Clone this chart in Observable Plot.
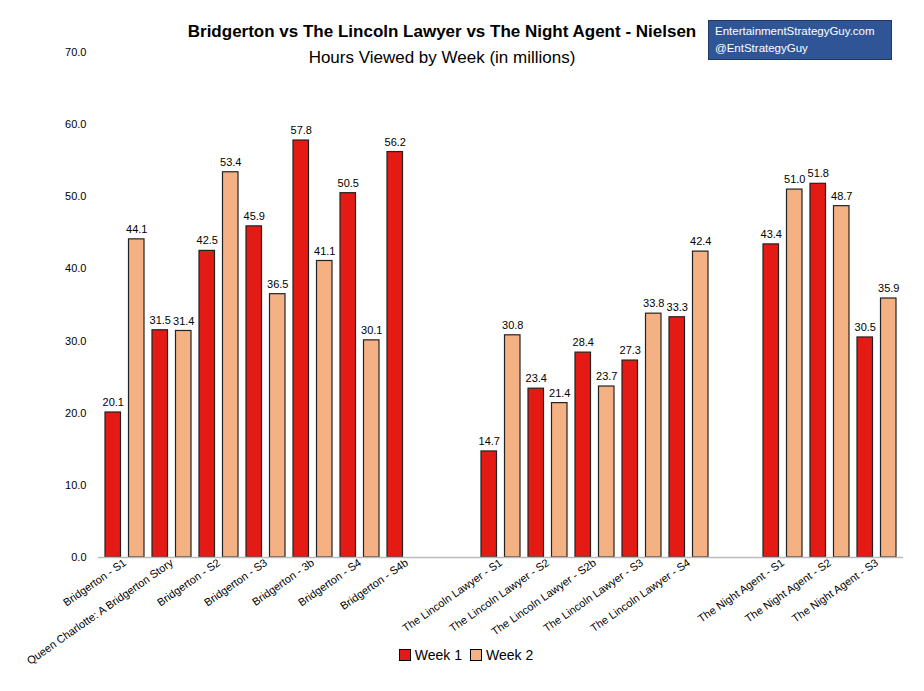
<!DOCTYPE html>
<html><head><meta charset="utf-8">
<script src="https://cdn.jsdelivr.net/npm/d3@7"></script>
<script src="https://cdn.jsdelivr.net/npm/@observablehq/plot@0.6"></script>
<style>
body{margin:0;background:#fff;font-family:"Liberation Sans",Arial,sans-serif;}
#wrap{position:relative;width:924px;height:691px;}
#title{position:absolute;top:22px;left:0;width:884px;text-align:center;font-size:17px;font-weight:bold;}
#sub{position:absolute;top:48px;left:0;width:884px;text-align:center;font-size:17px;}
#box{position:absolute;left:708px;top:20px;width:184px;height:40px;background:#2F5597;border:1px solid #1f3864;color:#fff;font-size:11.5px;line-height:17px;padding:2px 6px;box-sizing:border-box;}
#legend{position:absolute;top:647px;left:0;width:924px;text-align:center;font-size:14px;}
.sw{display:inline-block;width:10px;height:10px;border:1px solid #000;margin:0 4px 0 8px;vertical-align:-1px;}
#chart{position:absolute;top:0;left:0;}
</style></head><body>
<div id="wrap">
<div id="chart"></div>
<div id="title">Bridgerton vs The Lincoln Lawyer vs The Night Agent - Nielsen</div>
<div id="sub">Hours Viewed by Week (in millions)</div>
<div id="box">EntertainmentStrategyGuy.com<br>@EntStrategyGuy</div>
<div id="legend"><span class="sw" style="background:#E31B14"></span>Week 1<span class="sw" style="background:#F4B183"></span>Week 2</div>
</div>
<script>
const categories = ["Bridgerton - S1","Queen Charlotte: A Bridgerton Story","Bridgerton - S2","Bridgerton - S3","Bridgerton - 3b","Bridgerton - S4","Bridgerton - S4b","gap1","The Lincoln Lawyer - S1","The Lincoln Lawyer - S2","The Lincoln Lawyer - S2b","The Lincoln Lawyer - S3","The Lincoln Lawyer - S4","gap2","The Night Agent - S1","The Night Agent - S2","The Night Agent - S3"];
const week1 = [20.1,31.5,42.5,45.9,57.8,50.5,56.2,null,14.7,23.4,28.4,27.3,33.3,null,43.4,51.8,30.5];
const week2 = [44.1,31.4,53.4,36.5,41.1,30.1,null,null,30.8,21.4,23.7,33.8,42.4,null,51.0,48.7,35.9];
const yTicks = [0,10,20,30,40,50,60,70];
const d1 = [], d2 = [];
categories.forEach((c,i)=>{
  if(week1[i]!=null) d1.push({cat:c,v:week1[i]});
  if(week2[i]!=null) d2.push({cat:c,v:week2[i]});
});
const font = "'Liberation Sans',Arial,sans-serif";
const chart = Plot.plot({
  width:924,height:691,marginTop:52,marginBottom:134,marginLeft:98,marginRight:21,
  style:{fontFamily:font,fontSize:"11px",color:"#000"},
  x:{domain:categories,padding:0,label:null},
  y:{domain:[0,70],label:null},
  marks:[
    Plot.axisX({tickRotate:-35,tickSize:0,tickPadding:4,fontSize:11,
      tickFormat:d=>d.startsWith("gap")?"":d,label:null}),
    Plot.axisY({ticks:yTicks,tickFormat:d=>d.toFixed(1),tickSize:0,tickPadding:12,fontSize:11,label:null}),
    Plot.barY(d1,{x:"cat",y:"v",fill:"#E31B14",stroke:"#222",strokeWidth:1.2,insetLeft:4,insetRight:27.5}),
    Plot.barY(d2,{x:"cat",y:"v",fill:"#F4B183",stroke:"#222",strokeWidth:1.2,insetLeft:27.5,insetRight:4}),
    Plot.text(d1,{x:"cat",y:"v",text:d=>d.v.toFixed(1),dx:-11.75,dy:-10,fontSize:11}),
    Plot.text(d2,{x:"cat",y:"v",text:d=>d.v.toFixed(1),dx:11.75,dy:-10,fontSize:11}),
    Plot.ruleY([0],{stroke:"#bbb",strokeWidth:1.5})
  ]
});
document.getElementById("chart").appendChild(chart);
</script>
</body></html>
